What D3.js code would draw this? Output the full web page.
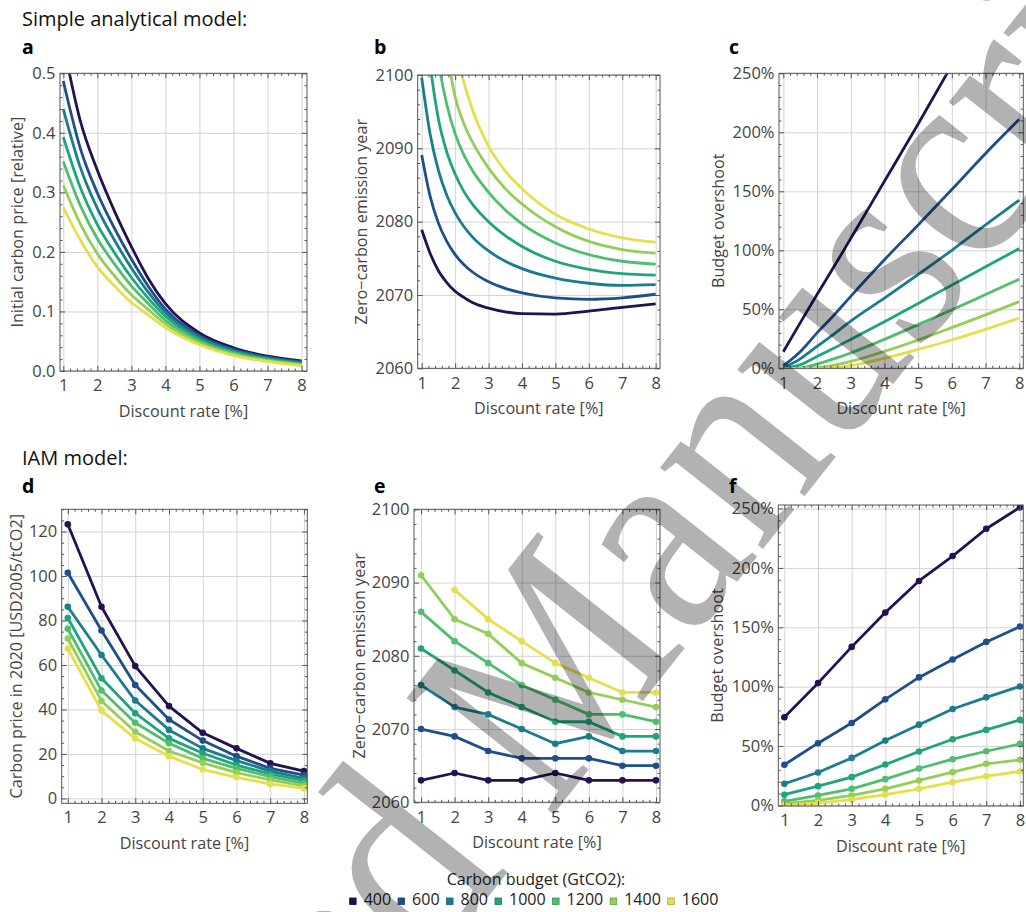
<!DOCTYPE html>
<html><head><meta charset="utf-8">
<script src="https://cdn.jsdelivr.net/npm/d3@7"></script>
<style>
body{margin:0;background:#fff}
svg{display:block;font-family:'Open Sans',sans-serif}
</style></head><body>
<svg id="chart" width="1026" height="912"></svg>
<script>
// ---------- data ----------
const budgets = [400, 600, 800, 1000, 1200, 1400, 1600];
const budgetColors = ["#231151", "#1f4e8c", "#1a7d8d", "#20a47d", "#4fbe6f", "#93cf58", "#e5df4b"];
const rateTicks = [1, 2, 3, 4, 5, 6, 7, 8];

// a: initial carbon price (relative), simple model
const aRates = [1, 1.5, 2, 2.5, 3, 3.5, 4, 5, 6, 7, 8];
const aPrice = [
  [0.55, 0.42, 0.337, 0.269, 0.209, 0.155, 0.113, 0.064, 0.039, 0.025, 0.017],
  [0.487, 0.374, 0.299, 0.240, 0.188, 0.142, 0.104, 0.0598, 0.0362, 0.0231, 0.0152],
  [0.44, 0.342, 0.273, 0.220, 0.173, 0.132, 0.098, 0.0568, 0.0342, 0.0217, 0.0139],
  [0.393, 0.308, 0.246, 0.199, 0.157, 0.122, 0.092, 0.0535, 0.0321, 0.0202, 0.0125],
  [0.352, 0.278, 0.222, 0.180, 0.143, 0.113, 0.085, 0.0504, 0.0301, 0.0188, 0.0113],
  [0.312, 0.247, 0.197, 0.160, 0.128, 0.103, 0.079, 0.0471, 0.0280, 0.0173, 0.0101],
  [0.275, 0.22, 0.175, 0.143, 0.115, 0.094, 0.073, 0.044, 0.026, 0.016, 0.009]
];
const aTicks = [0, 0.1, 0.2, 0.3, 0.4, 0.5];

// b: zero-carbon emission year, simple model
const bRates = [1, 1.25, 1.5, 1.75, 2, 2.25, 2.5, 3, 3.5, 4, 5, 6, 7, 8];
const bYear = [
  [2078.9, 2075.7, 2073.3, 2071.7, 2070.5, 2069.7, 2069.0, 2068.2, 2067.7, 2067.45, 2067.4, 2067.8, 2068.3, 2068.8],
  [2089.1, 2083.5, 2079.8, 2077.3, 2075.5, 2074.2, 2073.2, 2071.8, 2070.9, 2070.3, 2069.6, 2069.4, 2069.6, 2070.1],
  [2099.6, 2092, 2087, 2083.6, 2081.2, 2079.4, 2078.0, 2076.0, 2074.6, 2073.6, 2072.3, 2071.6, 2071.3, 2071.4],
  [2112, 2101.5, 2094, 2089.5, 2086.5, 2084.2, 2082.5, 2080, 2078.1, 2076.6, 2074.6, 2073.5, 2072.9, 2072.7],
  [null, 2113, 2102, 2096, 2092, 2089.2, 2087.1, 2084, 2081.6, 2079.7, 2077.1, 2075.5, 2074.6, 2074.2],
  [null, null, 2112, 2103.5, 2097, 2093.5, 2091, 2087.3, 2084.5, 2082.4, 2079.3, 2077.3, 2076.2, 2075.7],
  [null, null, null, 2113, 2104, 2099.2, 2095.5, 2090.3, 2086.9, 2084.5, 2081, 2079, 2077.8, 2077.2]
];
const yearTicks = [2060, 2070, 2080, 2090, 2100];

// c: budget overshoot (%), simple model
const cRates = [1, 1.5, 2, 2.5, 3, 4, 5, 6, 7, 8];
const cOver = [
  [14, 38.5, 62.5, 86, 110, 158.5, 207, 257, null, null],
  [2, 14, 30, 45, 61, 92, 121.5, 151.5, 182, 211],
  [0.3, 8, 18.5, 29, 40, 59.5, 79.5, 100, 121.5, 142.5],
  [0, 3, 10, 17, 24.5, 39.5, 55, 70.5, 86, 101.5],
  [0, 0.4, 3.5, 8, 13, 24.5, 37, 49.5, 62.5, 75.5],
  [0, 0, 0.6, 2.5, 5.8, 14.3, 24, 34.5, 45.3, 56.5],
  [0, 0, 0, 0.5, 2.3, 8.5, 16, 24, 33, 42.5]
];
const overTicks = [0, 50, 100, 150, 200, 250];

// d: carbon price in 2020, IAM
const dRates = [1, 2, 3, 4, 5, 6, 7, 8];
const dPrice = [
  [123.3, 86.2, 59.5, 41.5, 29.5, 22.5, 15.8, 12.3],
  [101.5, 75.5, 51, 35.5, 26, 19, 13.5, 10.5],
  [86.2, 64.5, 44, 30.8, 22.5, 17, 12.3, 9],
  [81.1, 54, 38.3, 27, 20.3, 15, 11, 8],
  [76.3, 48.5, 34, 24.8, 18, 13.5, 9.8, 6.8],
  [71.9, 43.8, 30, 21.3, 16, 11.6, 8.3, 5.6],
  [67.4, 39.5, 26.9, 19, 13, 9.5, 6.5, 4.5]
];
const dTicks = [0, 20, 40, 60, 80, 100, 120];

// e: zero-carbon emission year, IAM
const eRates = [1, 2, 3, 4, 5, 6, 7, 8];
const eYear = [
  [2063, 2064, 2063, 2063, 2064, 2063, 2063, 2063],
  [2070, 2069, 2067, 2066, 2066, 2066, 2065, 2065],
  [2076, 2073, 2072, 2070, 2068, 2069, 2067, 2067],
  [2081, 2078, 2075, 2073, 2071, 2071, 2069, 2069],
  [2086, 2082, 2079, 2076, 2074, 2072, 2072, 2071],
  [2091, 2085, 2083, 2079, 2077, 2075, 2074, 2073],
  [null, 2089, 2085, 2082, 2079, 2077, 2075, 2075]
];

// f: budget overshoot (%), IAM
const fRates = [1, 2, 3, 4, 5, 6, 7, 8];
const fOver = [
  [74.2, 103, 133.5, 162.4, 189, 210, 233, 251],
  [34.2, 52.4, 69.4, 89.3, 107.8, 122.9, 137.7, 150.6],
  [18.2, 27.7, 40, 54.6, 68, 81.2, 91, 100.2],
  [9, 16.2, 23.8, 34.4, 45.4, 55.7, 63.6, 72],
  [3.4, 8.4, 14, 22.1, 31.1, 38.9, 45.6, 51.8],
  [1.4, 4.2, 8.4, 14, 21, 28, 35, 38.4],
  [0, 2, 4.8, 9, 14, 19.6, 24.6, 28.6]
];

// ---------- drawing ----------
const svg = d3.select('#chart');
const FRAME = '#555', TICKTXT = '#444', GRID = '#d3d3d3';
const TICKFS = 16.5, TITLEFS = 16.2;

function minorValues(dom, step, majorStep) {
  const out = [];
  const start = Math.ceil(dom[0] / step - 1e-9);
  const end = Math.floor(dom[1] / step + 1e-9);
  for (let i = start; i <= end; i++) {
    const v = i * step;
    const r = v / majorStep;
    if (Math.abs(r - Math.round(r)) > 1e-6) out.push(+v.toFixed(6));
  }
  return out;
}

let clipId = 0;
function panel(cfg) {
  const g = svg.append('g');
  const x = d3.scaleLinear().domain(cfg.xDom).range([cfg.left, cfg.right]);
  const y = d3.scaleLinear().domain(cfg.yDom).range([cfg.bottom, cfg.top]);
  const W = cfg.right - cfg.left, H = cfg.bottom - cfg.top;

  // grid
  g.append('g').attr('transform', `translate(0,${cfg.bottom})`)
    .call(d3.axisBottom(x).tickValues(rateTicks).tickSize(-H).tickFormat(''))
    .call(s => { s.select('.domain').remove(); s.selectAll('line').attr('stroke', GRID).attr('stroke-width', 1); });
  g.append('g').attr('transform', `translate(${cfg.left},0)`)
    .call(d3.axisLeft(y).tickValues(cfg.yTicks).tickSize(-W).tickFormat(''))
    .call(s => { s.select('.domain').remove(); s.selectAll('line').attr('stroke', GRID).attr('stroke-width', 1); });

  // clip
  const cid = 'clip' + (clipId++);
  svg.append('clipPath').attr('id', cid).append('rect')
    .attr('x', cfg.left).attr('y', cfg.top).attr('width', W).attr('height', H);
  const plot = g.append('g').attr('clip-path', `url(#${cid})`);

  const line = d3.line()
    .defined(d => d[1] != null)
    .x(d => x(d[0])).y(d => y(d[1]))
    .curve(cfg.smooth ? d3.curveMonotoneX : d3.curveLinear);

  cfg.series.forEach((vals, i) => {
    const pts = cfg.rates.map((r, j) => [r, vals[j]]);
    plot.append('path').datum(pts)
      .attr('fill', 'none').attr('stroke', budgetColors[i])
      .attr('stroke-width', 2.8).attr('stroke-linejoin', 'round').attr('stroke-linecap', 'butt')
      .attr('d', line);
    if (cfg.points) {
      plot.selectAll(null).data(pts.filter(d => d[1] != null)).enter().append('circle')
        .attr('cx', d => x(d[0])).attr('cy', d => y(d[1])).attr('r', 3.3)
        .attr('fill', budgetColors[i]);
    }
  });

  // frame
  g.append('rect').attr('x', cfg.left).attr('y', cfg.top).attr('width', W).attr('height', H)
    .attr('fill', 'none').attr('stroke', FRAME).attr('stroke-width', 1);

  const styleAx = s => {
    s.select('.domain').remove();
    s.selectAll('line').attr('stroke', FRAME).attr('stroke-width', 1);
    s.selectAll('text').attr('fill', TICKTXT).attr('font-size', TICKFS).attr('font-family', "'Open Sans',sans-serif");
  };
  const xMinor = minorValues(cfg.xDom, 0.2, 1);
  const yMinor = minorValues(cfg.yDom, cfg.yMinor, cfg.yTicks[1] - cfg.yTicks[0]);

  // bottom
  g.append('g').attr('transform', `translate(0,${cfg.bottom})`)
    .call(d3.axisBottom(x).tickValues(rateTicks).tickSize(-5).tickPadding(cfg.xPad || 8.5).tickFormat(d3.format('d'))).call(styleAx);
  g.append('g').attr('transform', `translate(0,${cfg.bottom})`)
    .call(d3.axisBottom(x).tickValues(xMinor).tickSize(-2.5).tickFormat('')).call(styleAx);
  // top
  g.append('g').attr('transform', `translate(0,${cfg.top})`)
    .call(d3.axisTop(x).tickValues(rateTicks).tickSize(-5).tickFormat('')).call(styleAx);
  g.append('g').attr('transform', `translate(0,${cfg.top})`)
    .call(d3.axisTop(x).tickValues(xMinor).tickSize(-2.5).tickFormat('')).call(styleAx);
  // left
  g.append('g').attr('transform', `translate(${cfg.left},0)`)
    .call(d3.axisLeft(y).tickValues(cfg.yTicks).tickSize(-5).tickPadding(4.5).tickFormat(cfg.yFmt)).call(styleAx);
  g.append('g').attr('transform', `translate(${cfg.left},0)`)
    .call(d3.axisLeft(y).tickValues(yMinor).tickSize(-2.5).tickFormat('')).call(styleAx);
  // right
  g.append('g').attr('transform', `translate(${cfg.right},0)`)
    .call(d3.axisRight(y).tickValues(cfg.yTicks).tickSize(-5).tickFormat('')).call(styleAx);
  g.append('g').attr('transform', `translate(${cfg.right},0)`)
    .call(d3.axisRight(y).tickValues(yMinor).tickSize(-2.5).tickFormat('')).call(styleAx);

  // axis titles
  g.append('text').attr('x', (cfg.left + cfg.right) / 2).attr('y', cfg.bottom + 46)
    .attr('text-anchor', 'middle').attr('font-size', TITLEFS).attr('fill', TICKTXT)
    .text('Discount rate [%]');
  g.append('text')
    .attr('transform', `translate(${cfg.yTitleX},${(cfg.top + cfg.bottom) / 2}) rotate(-90)`)
    .attr('dy', '0.36em').attr('text-anchor', 'middle').attr('font-size', TITLEFS).attr('fill', TICKTXT)
    .text(cfg.yTitle);
  // panel letter
  g.append('text').attr('x', cfg.letterX).attr('y', cfg.letterY)
    .attr('font-size', 19.5).attr('font-weight', 700).attr('fill', '#000').text(cfg.letter);
}

const pct = d => d + '%';

panel({letter: 'a', letterX: 22, letterY: 54, left: 60, right: 307, top: 73.3, bottom: 371,
  xDom: [0.903, 8.16], yDom: [0, 0.5], yTicks: aTicks, yMinor: 0.02, yFmt: d3.format('.1f'),
  rates: aRates, series: aPrice, smooth: true, yTitle: 'Initial carbon price [relative]', yTitleX: 17.5});
panel({letter: 'b', letterX: 374, letterY: 54, left: 417.7, right: 660, top: 75, bottom: 368.3,
  xDom: [0.88, 8.13], yDom: [2060, 2100], yTicks: yearTicks, yMinor: 2, yFmt: d3.format('d'),
  rates: bRates, series: bYear, smooth: true, yTitle: 'Zero\u2212carbon emission year', yTitleX: 361.5});
panel({letter: 'c', letterX: 729, letterY: 54, left: 779, right: 1023.3, top: 73.3, bottom: 368.3,
  xDom: [0.872, 8.12], yDom: [0, 250], yTicks: overTicks, yMinor: 10, yFmt: pct,
  rates: cRates, series: cOver, smooth: true, yTitle: 'Budget overshoot', yTitleX: 718.5});
panel({letter: 'd', letterX: 22, letterY: 493, left: 61.7, right: 307.3, top: 509.3, bottom: 803.3, xPad: 7.5,
  xDom: [0.82, 8.1], yDom: [-2.2, 130], yTicks: dTicks, yMinor: 5, yFmt: d3.format('d'),
  rates: dRates, series: dPrice, points: true, yTitle: 'Carbon price in 2020 [USD2005/tCO2]', yTitleX: 16.5});
panel({letter: 'e', letterX: 374, letterY: 493, left: 414, right: 660, top: 509.3, bottom: 802.3,
  xDom: [0.79, 8.12], yDom: [2060, 2100], yTicks: yearTicks, yMinor: 2, yFmt: d3.format('d'),
  rates: eRates, series: eYear, points: true, yTitle: 'Zero\u2212carbon emission year', yTitleX: 359});
panel({letter: 'f', letterX: 729, letterY: 493, left: 778.3, right: 1023.3, top: 505, bottom: 806,
  xDom: [0.82, 8.1], yDom: [-0.5, 253], yTicks: overTicks, yMinor: 10, yFmt: pct,
  rates: fRates, series: fOver, points: true, yTitle: 'Budget overshoot', yTitleX: 717.5});

// section titles
svg.append('text').attr('x', 22).attr('y', 26).attr('font-size', 20).attr('fill', '#111').text('Simple analytical model:');
svg.append('text').attr('x', 22).attr('y', 465).attr('font-size', 20).attr('fill', '#111').text('IAM model:');

// legend
const lg = svg.append('g');
lg.append('text').attr('x', 536).attr('y', 885).attr('text-anchor', 'middle')
  .attr('font-size', 16).attr('fill', '#222').text('Carbon budget (GtCO2):');
const items = lg.append('g');
let cx = 0;
budgets.forEach((b, i) => {
  items.append('rect').attr('x', cx).attr('y', -7).attr('width', 6.5).attr('height', 6.5)
    .attr('fill', budgetColors[i]).attr('stroke', d3.color(budgetColors[i]).darker(0.8)).attr('stroke-width', 0.8);
  const t = items.append('text').attr('x', cx + 14).attr('y', 0).attr('font-size', 16).attr('fill', '#222').text(b);
  cx += 14 + t.node().getComputedTextLength() + 7;
});
const totalW = cx - 7;
items.attr('transform', `translate(${534 - totalW / 2},905)`);

// watermark
svg.append('text')
  .attr('transform', 'translate(-86,1624) rotate(-51.7) scale(0.89,1)')
  .attr('font-family', "'Liberation Serif','DejaVu Serif',serif")
  .attr('font-size', 286).attr('fill', '#000').attr('fill-opacity', 0.3)
  .text('Accepted Manuscript');
</script>
</body></html>
